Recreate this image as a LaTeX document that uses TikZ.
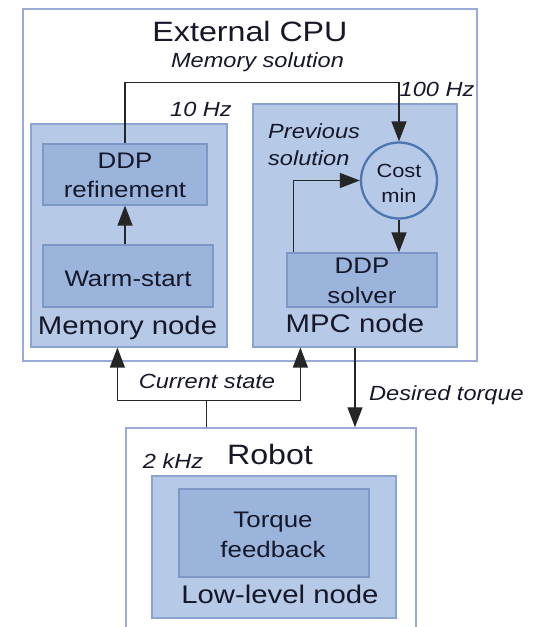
\documentclass[tikz,border=0pt]{standalone}
\usepackage{fontspec}
\setmainfont{Liberation Sans}[FakeStretch=1.15]
\usetikzlibrary{arrows.meta,calc}
\definecolor{outerline}{HTML}{9AAAD8}
\definecolor{nodefill}{HTML}{B6C9E6}
\definecolor{nodeline}{HTML}{8AA4D0}
\definecolor{innerfill}{HTML}{9AB4DB}
\definecolor{innerline}{HTML}{7D98C6}
\definecolor{circline}{HTML}{4D77B0}
\definecolor{txt}{HTML}{16182A}
\tikzset{
  outerbox/.style={rectangle, draw=outerline, fill=white, line width=1.5pt, inner sep=0pt},
  nodebox/.style={rectangle, draw=nodeline, fill=nodefill, line width=1.2pt, inner sep=0pt},
  innerbox/.style={rectangle, draw=innerline, fill=innerfill, line width=1.2pt, inner sep=0pt},
  costcirc/.style={circle, draw=circline, fill=nodefill, line width=2.3pt, inner sep=0pt, minimum size=76pt},
  lbl/.style={anchor=base, inner sep=0pt, text=txt},
  title/.style={lbl, font=\fontsize{28}{30}\selectfont},
  nodelbl/.style={lbl, font=\fontsize{25.5}{28}\selectfont},
  innerlbl/.style={lbl, font=\fontsize{22.5}{25}\selectfont},
  circlbl/.style={lbl, font=\fontsize{19}{21}\selectfont},
  itlbl/.style={lbl, font=\fontsize{20.5}{22}\selectfont\itshape},
  conn/.style={draw=black!85, line width=1.3pt},
  arr/.style={conn, -{Triangle[length=20pt,width=15pt]}},
}
\begin{document}
\begin{tikzpicture}[x=1pt,y=-1pt]
\useasboundingbox (0,0) rectangle (537,627);
\clip (0,0) rectangle (537,627);

% boxes
\node[outerbox, minimum width=454pt, minimum height=352pt] (cpu) at (250,185) {};
\node[nodebox, minimum width=196pt, minimum height=223pt] (mem) at (129,235.5) {};
\node[nodebox, minimum width=204pt, minimum height=243pt] (mpc) at (355,225.5) {};
\node[innerbox, minimum width=164pt, minimum height=61pt] (ref) at (125,174.5) {};
\node[innerbox, minimum width=170pt, minimum height=62pt] (warm) at (128,276) {};
\node[innerbox, minimum width=150pt, minimum height=54pt] (solver) at (362,280) {};
\node[costcirc] (cost) at (399,180.5) {};
\node[outerbox, minimum width=290pt, minimum height=222pt] (robot) at (271,539) {};
\node[nodebox, minimum width=244pt, minimum height=142pt] (low) at (274,547) {};
\node[innerbox, minimum width=190pt, minimum height=88pt] (tfb) at (274,533) {};

% texts
\node[title] (tcpu) at (250,41.7) {External CPU};
\node[itlbl] (tmemsol) at (257.5,67) {Memory solution};
\node[itlbl] (t10) at (201,116) {10 Hz};
\node[itlbl] (t100) at (437,96) {100 Hz};
\node[itlbl, anchor=base west] (tprev1) at (268,138) {Previous};
\node[itlbl, anchor=base west] (tprev2) at (268,165) {solution};
\node[circlbl] (tcost1) at (399,177) {Cost};
\node[circlbl] (tcost2) at (399,202) {min};
\node[innerlbl] (tref1) at (125,168) {DDP};
\node[innerlbl] (tref2) at (125,197) {refinement};
\node[innerlbl] (twarm) at (128,286) {Warm-start};
\node[nodelbl] (tmem) at (127.5,334) {Memory node};
\node[innerlbl] (tsol1) at (362,273) {DDP};
\node[innerlbl] (tsol2) at (362,303) {solver};
\node[nodelbl] (tmpc) at (355,332) {MPC node};
\node[itlbl] (tcur) at (207,388) {Current state};
\node[itlbl, anchor=base west] (tdes) at (369,400) {Desired torque};
\node[title] (trob) at (270,464) {Robot};
\node[itlbl] (t2k) at (173,468) {2 kHz};
\node[innerlbl] (ttq1) at (273,527) {Torque};
\node[innerlbl] (ttq2) at (273,557) {feedback};
\node[nodelbl] (tlow) at (280,603) {Low-level node};

% connectors
\coordinate (topl) at ($(ref.north)+(0,-61)$);
\draw[arr] (ref.north) -- (topl) -| (cost.north);
\draw[arr] (warm.north -| ref.south) -- (ref.south);
\coordinate (solup) at ($(solver.north west)+(7,0)$);
\draw[arr] (solup) |- (cost.west);
\draw[arr] (cost.south) -- (cost.south |- solver.north);

\coordinate (rtop) at ($(robot.north west)+(81,0)$);
\coordinate (split) at ($(rtop)+(0,-27)$);
\coordinate (memin) at ($(mem.south west)+(87,0)$);
\coordinate (mpcin) at ($(mpc.south west)+(48,0)$);
\draw[conn] (rtop) -- (split);
\draw[arr] (split) -| (memin);
\draw[arr] (split) -| (mpcin);
\draw[arr] (mpc.south) -- (mpc.south |- robot.north);
\end{tikzpicture}
\end{document}
